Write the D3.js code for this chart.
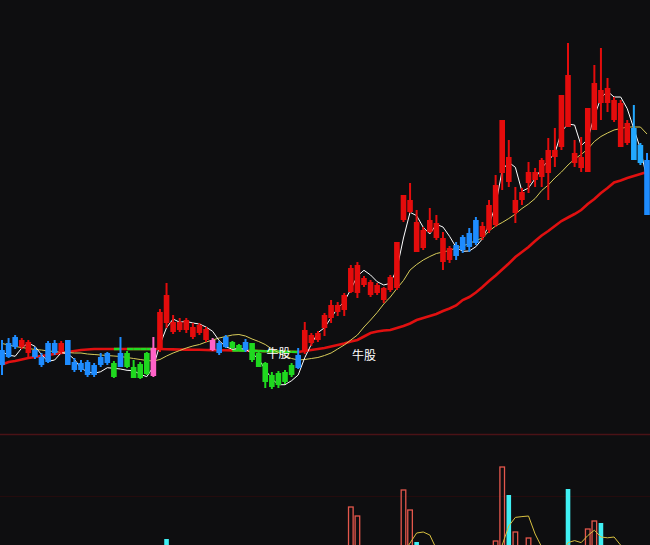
<!DOCTYPE html>
<html><head><meta charset="utf-8">
<script src="https://cdn.jsdelivr.net/npm/d3@7"></script>
<style>html,body{margin:0;padding:0;background:#0e0e10;overflow:hidden}</style>
</head><body><svg id="c" width="650" height="545"></svg>
<script>
const openPx = [15.0,15.7,16.3,15.3,14.7,15.0,14.3,15.7,15.7,14.8,
16.0,13.8,13.7,13.8,13.5,14.3,14.7,13.7,14.7,14.7,
13.3,13.6,14.7,12.4,15.0,20.5,16.8,17.0,17.0,16.3,
16.7,16.0,15.0,15.7,16.3,15.8,15.5,15.8,15.7,14.7,
13.7,12.5,12.7,12.8,13.5,14.5,14.8,15.7,16.0,17.2,
18.2,18.8,19.0,20.8,20.7,21.5,20.5,20.7,20.0,21.0,
21.2,28.0,28.8,27.8,25.2,26.8,26.2,23.8,24.0,25.5,
26.3,26.7,28.0,26.3,27.0,27.5,32.7,34.3,28.7,30.0,
31.7,32.0,32.3,32.7,34.3,35.3,42.5,33.7,33.2,32.8,
37.0,41.0,39.7,38.0,35.3,35.7,37.2,35.5,34.0];
const highPx = [16.0,16.2,16.5,16.2,16.0,15.3,14.7,15.9,16.0,15.9,
16.0,14.2,14.0,14.0,13.7,14.7,14.8,13.9,16.3,14.9,
14.0,13.8,14.8,16.3,19.1,21.7,18.5,18.2,18.2,17.7,
17.7,17.3,16.2,15.9,16.5,15.9,15.6,16.1,15.7,14.9,
13.8,12.8,12.9,13.0,13.7,15.2,17.8,16.7,16.9,18.7,
20.0,19.8,20.7,23.5,23.8,22.4,22.0,21.7,21.3,22.5,
25.8,30.5,31.7,29.0,27.3,29.2,28.5,26.8,25.4,25.8,
26.5,27.2,28.3,27.8,30.0,32.5,38.0,36.0,31.3,31.2,
33.8,33.2,34.2,36.2,37.2,40.5,45.7,36.0,36.3,39.2,
43.5,45.2,42.2,40.3,40.0,38.0,39.5,35.7,34.7];
const lowPx = [12.5,14.2,15.1,15.1,14.3,14.1,13.3,13.7,14.5,14.6,
13.5,12.8,12.8,12.3,12.3,13.3,13.5,12.2,13.3,13.2,
12.2,12.1,12.5,12.3,14.8,17.2,16.6,16.8,16.7,16.1,
16.5,15.8,14.9,14.5,15.2,15.1,14.9,14.8,13.8,13.3,
11.2,11.1,11.2,11.6,12.3,13.1,14.6,15.4,15.8,16.4,
17.7,18.4,18.4,20.7,20.2,21.3,20.3,20.5,19.7,20.8,
21.0,27.8,28.7,24.8,25.0,26.7,26.0,23.0,23.7,24.0,
24.7,24.8,25.5,26.0,26.7,27.3,31.0,31.3,27.7,29.5,
30.7,31.3,31.3,30.0,33.3,35.0,37.3,33.3,32.8,32.8,
37.0,38.0,38.8,37.8,35.3,35.5,34.0,33.5,28.5];
const closePx = [13.5,14.3,15.3,16.0,15.8,14.3,13.5,13.8,14.7,15.7,
13.5,13.0,13.0,12.5,12.5,13.5,13.7,12.3,13.3,13.3,
12.2,12.2,12.6,15.2,18.8,17.7,17.8,17.8,18.0,17.3,
17.5,17.1,16.0,14.7,15.3,15.2,15.0,15.0,14.0,13.3,
11.8,11.3,11.5,11.8,12.5,13.2,17.0,16.5,16.7,18.5,
19.5,19.5,20.5,23.2,23.5,22.2,21.8,21.5,21.2,22.3,
25.8,30.5,30.0,24.8,27.0,28.0,27.7,26.2,25.2,24.4,
25.0,25.3,25.7,27.4,29.5,31.5,38.0,31.8,30.0,30.8,
32.8,32.8,34.0,35.0,35.0,40.5,37.3,34.7,34.3,39.2,
41.7,39.7,41.2,40.0,39.7,37.7,34.0,33.7,28.5];
// indicator colour state per candle: R red, B blue, G green, P pink, C light blue
const stateCodes = ("BBB"+"RR"+"BBBB"+"R"+"BBBBBBB"+"G"+"B"+"GGGG"+"P"+"RRRRRRRR"+"P"+"BB"+"GG"+"B"+"GGGGGGG"+"B"
  +"RRRRRRRRRRRRRRRRRRRRRRR"+"BBBB"+"RRRRRRRRRRRRRRRRRRRRRRR"+"CC"+"B").split("");
const maShort = [14.8,14.5,14.37,15.2,15.7,15.37,14.53,13.87,14.0,14.73,
14.63,14.07,13.17,12.83,12.67,12.83,13.23,13.17,13.1,12.97,
12.93,12.57,12.33,13.33,15.53,17.23,18.1,17.77,17.87,17.7,
17.6,17.3,16.87,15.93,15.33,15.07,15.17,15.07,14.67,14.1,
13.03,12.13,11.53,11.53,11.93,12.5,14.23,15.57,16.73,17.23,
18.23,19.17,19.83,21.07,22.4,22.97,22.5,21.83,21.5,21.67,
23.1,26.2,28.77,28.43,27.27,26.6,27.57,27.3,26.37,25.27,
24.87,24.9,25.33,26.13,27.53,29.47,33.0,33.77,33.27,30.87,
31.2,32.13,33.2,33.93,34.67,36.83,37.6,37.5,35.43,36.07,
38.4,40.2,40.87,40.3,40.3,39.13,37.13,35.13,32.07];
const maMid = [15.65,15.5,15.35,15.25,15.15,15.05,15.0,14.9,14.85,14.8,
14.75,14.7,14.7,14.6,14.55,14.5,14.45,14.4,14.35,14.25,
14.15,14.05,13.95,13.9,14.05,14.4,14.7,14.95,15.2,15.4,
15.55,15.8,16.0,16.2,16.35,16.5,16.55,16.4,16.1,15.85,
15.55,15.1,14.75,14.4,14.15,14.0,14.05,14.15,14.25,14.45,
14.7,15.1,15.5,16.0,16.5,17.3,18.0,18.75,19.6,20.3,
21.15,21.95,23.0,23.55,24.0,24.35,24.65,24.8,24.95,25.2,
25.4,25.65,25.95,26.2,26.9,27.4,27.75,28.15,28.6,29.15,
29.6,30.15,30.95,31.5,32.2,32.8,33.5,34.1,34.55,35.1,
35.85,36.35,36.7,37.0,37.15,37.3,37.3,37.3,36.6];
const maLong = [13.55,13.8,13.9,14.05,14.2,14.3,14.4,14.5,14.6,14.7,
14.8,14.9,15.0,15.05,15.1,15.1,15.1,15.1,15.1,15.1,
15.1,15.1,15.1,15.1,15.1,15.08,15.06,15.05,15.04,15.03,
15.02,15.0,14.99,14.98,14.97,14.96,14.95,14.94,14.92,14.9,
14.88,14.86,14.85,14.83,14.82,14.8,14.9,15.0,15.1,15.2,
15.35,15.5,15.65,15.85,16.0,16.35,16.7,16.85,16.95,17.0,
17.2,17.4,17.65,18.0,18.2,18.4,18.6,18.9,19.15,19.45,
20.0,20.3,20.75,21.3,21.9,22.45,23.05,23.65,24.3,24.8,
25.3,25.9,26.45,26.9,27.4,27.9,28.25,28.6,29.0,29.6,
30.1,30.7,31.2,31.75,31.95,32.2,32.4,32.6,32.8];
const volume = [45,52,38,60,48,41,55,62,40,47,
70,50,36,44,39,42,48,58,66,51,
43,47,55,78,88,101,72,60,54,49,
46,52,57,44,50,38,35,41,56,52,
63,48,44,40,47,58,85,62,55,74,
80,66,70,133,124,70,65,58,62,74,
90,150,130,98,82,76,68,72,60,55,
58,62,70,66,88,99,173,145,108,92,
102,84,80,88,76,92,151,90,78,111,
119,117,86,82,70,72,88,70,93];
const volMA = [55,52,50,50,49,47,49,53,51,49,
55,54,53,48,48,44,42,45,49,53,
53,53,54,59,68,74,79,80,75,67,
56,52,52,51,50,48,45,42,45,45,
49,51,53,51,47,49,57,60,61,67,
71,68,70,85,90,89,86,80,66,66,
70,87,97,107,108,105,91,79,72,66,
63,61,61,62,69,77,95,114,122.6,123.4,
124,106,93,89,86,84,97.4,99.4,97.4,104.4,
109.8,103,102.2,103,94.8,85.4,79.6,76.4,78.6];
const signalIdx = [42, 55];
const signalPrice = [14.7, 14.5];
const signalText = ["牛股", "牛股"];

(function () {
const W = 650, H = 545;
const svg = d3.select("#c");
svg.append("rect").attr("width", W).attr("height", H).attr("fill", "#0e0e10");
const n = closePx.length;
const idx = d3.range(n);
const x = d3.scaleLinear().domain([0, n - 1]).range([2, 647]);
const y = d3.scaleLinear().domain([0, 50]).range([500, 0]);
const yv = d3.scaleLinear().domain([0, 200]).range([640, 440]);
const colors = {R: "#e40c0c", B: "#1e8cff", G: "#1fd81f", P: "#ff62c8", C: "#22a8ff"};

svg.append("line").attr("x1", 0).attr("x2", W).attr("y1", 434.5).attr("y2", 434.5).attr("stroke", "#4a1216").attr("stroke-width", 1.5);
svg.append("line").attr("x1", 0).attr("x2", W).attr("y1", 496.5).attr("y2", 496.5).attr("stroke", "#240b0d").attr("stroke-width", 1);

const gTop = svg.append("g");
const lineLong = d3.line().x(i => x(i)).y(i => y(maLong[i]));
gTop.append("path").attr("d", lineLong(idx)).attr("fill", "none").attr("stroke", "#e01010").attr("stroke-width", 2.6);
idx.slice(0, n - 1).filter(i => stateCodes[i] === "G").forEach(i => {
  gTop.append("path").attr("d", lineLong([i, i + 1])).attr("fill", "none").attr("stroke", "#22dd22").attr("stroke-width", 2.6);
});
gTop.append("path").attr("d", d3.line().x(i => x(i)).y(i => y(maMid[i]))(idx))
  .attr("fill", "none").attr("stroke", "#d8cc5a").attr("stroke-width", 1);
gTop.append("path").attr("d", d3.line().x(i => x(i)).y(i => y(maShort[i]))(idx))
  .attr("fill", "none").attr("stroke", "#ffffff").attr("stroke-width", 1);

const bw = 5.6;
const cg = gTop.selectAll("g.k").data(idx).join("g").attr("class", "k");
cg.append("line").attr("x1", i => x(i)).attr("x2", i => x(i))
  .attr("y1", i => y(highPx[i])).attr("y2", i => y(lowPx[i]))
  .attr("stroke", i => colors[stateCodes[i]]).attr("stroke-width", 2);
cg.append("rect").attr("x", i => x(i) - bw / 2).attr("width", bw)
  .attr("y", i => y(Math.max(openPx[i], closePx[i])))
  .attr("height", i => Math.max(1, Math.abs(y(openPx[i]) - y(closePx[i]))))
  .attr("fill", i => colors[stateCodes[i]]);

svg.selectAll("text.sig").data(signalIdx).join("text").attr("class", "sig")
  .attr("x", d => x(d)).attr("y", (d, k) => y(signalPrice[k]))
  .attr("dy", "0.38em").attr("text-anchor", "middle")
  .attr("fill", "#ffffff").attr("font-size", 12)
  .attr("font-family", "'Noto Sans CJK SC', sans-serif")
  .text((d, k) => signalText[k]);

const vol = svg.append("g");
vol.selectAll("rect").data(idx).join("rect")
  .attr("x", i => x(i) - 2.3).attr("width", 4.6)
  .attr("y", i => yv(volume[i])).attr("height", i => yv(0) - yv(volume[i]))
  .attr("fill", i => closePx[i] >= openPx[i] ? "none" : "#40f0f4")
  .attr("stroke", i => closePx[i] >= openPx[i] ? "#e4574c" : "none")
  .attr("stroke-width", 1.3);
vol.append("path").attr("d", d3.line().x(i => x(i)).y(i => yv(volMA[i]))(idx))
  .attr("fill", "none").attr("stroke", "#d8c040").attr("stroke-width", 1);
})();
</script></body></html>
